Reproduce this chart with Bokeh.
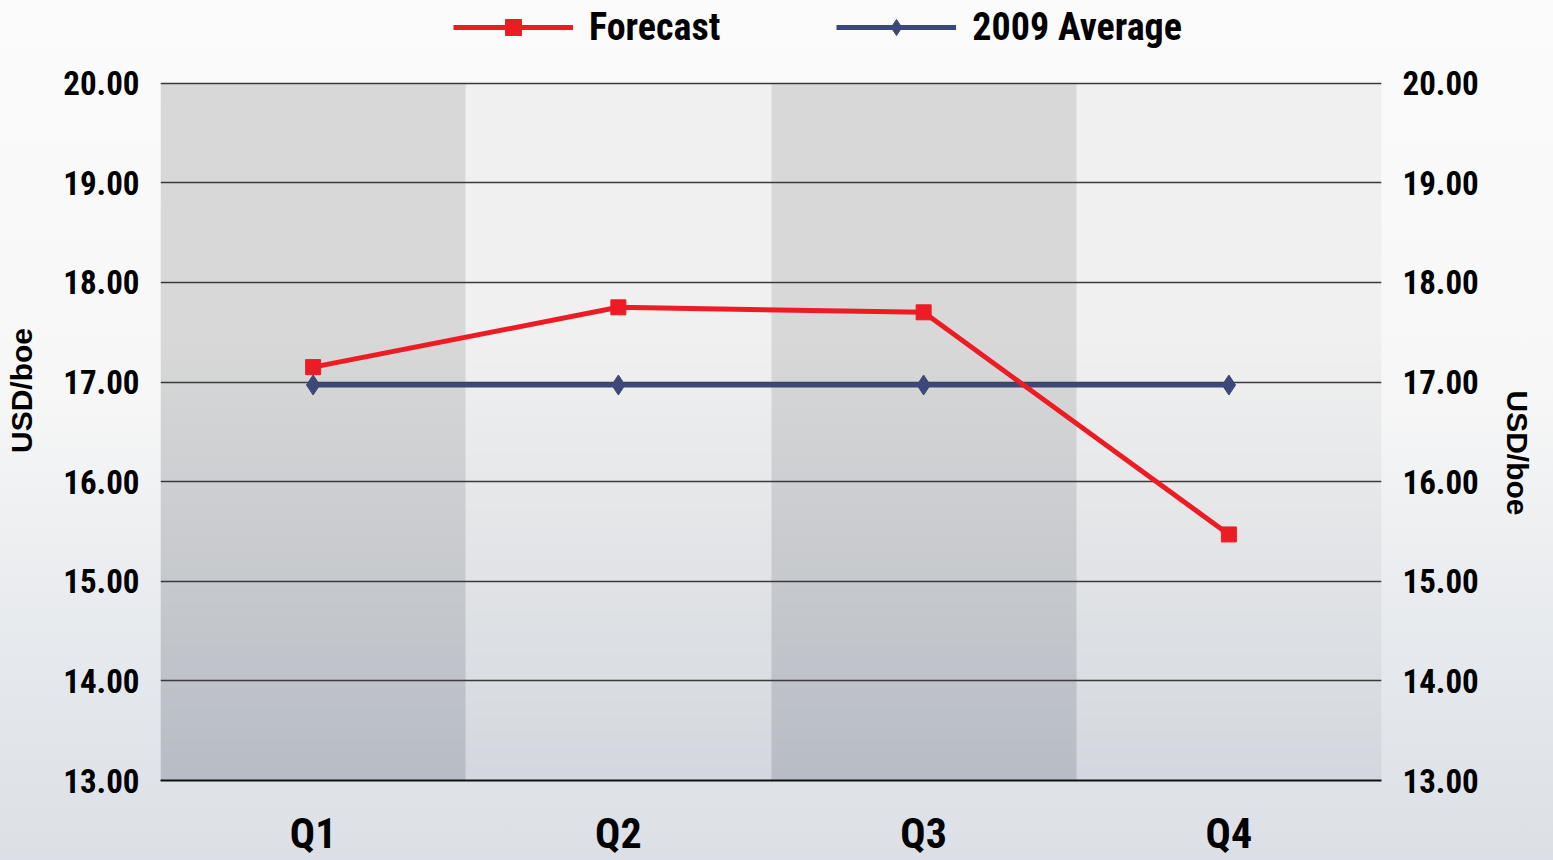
import numpy as np
from bokeh.plotting import figure
from bokeh.models import Range1d, LinearAxis, Legend, LegendItem, FixedTicker
from bokeh.embed import file_html
from bokeh.resources import INLINE

quarters = ["Q1", "Q2", "Q3", "Q4"]
forecast = [17.15, 17.75, 17.70, 15.47]
average_2009 = [16.97, 16.97, 16.97, 16.97]
y_ticks = [13, 14, 15, 16, 17, 18, 19, 20]
y_min, y_max = 13, 20
y_view_top = 20.83  # extra headroom above the chart for the legend

COND = "Roboto Condensed"

x = list(range(len(quarters)))

p = figure(width=1553, height=860, output_backend="svg", toolbar_location=None,
           x_range=Range1d(-0.5, len(quarters) - 0.5), y_range=Range1d(y_min, y_view_top),
           min_border_left=160, min_border_right=171, min_border_top=0, min_border_bottom=79)
p.border_fill_color = None
p.background_fill_color = None
p.outline_line_color = None
p.styles = {"background-image": "linear-gradient(to bottom, #fbfbfb 0%, #f7f7f7 45%, #e6e9ed 75%, #dce0e6 100%)"}

rows = 256
t = np.linspace(0, 1, rows)[:, None]
dark_bot = np.array([0xb8, 0xbd, 0xc5]); dark_top = np.array([0xd8, 0xd8, 0xd8])
lite_bot = np.array([0xd4, 0xd8, 0xde]); lite_top = np.array([0xf0, 0xf0, 0xf0])
img = np.zeros((rows, len(quarters)), dtype=np.uint32)
view = img.view(dtype=np.uint8).reshape((rows, len(quarters), 4))
tt = np.clip(t * 1.6, 0, 1)
for i in range(len(quarters)):
    bot, top = (dark_bot, dark_top) if i % 2 == 0 else (lite_bot, lite_top)
    c = bot[None, :] * (1 - tt) + top[None, :] * tt
    view[:, i, 0] = c[:, 0].astype(np.uint8)
    view[:, i, 1] = c[:, 1].astype(np.uint8)
    view[:, i, 2] = c[:, 2].astype(np.uint8)
    view[:, i, 3] = 255
p.image_rgba(image=[img], x=-0.5, y=y_min, dw=len(quarters), dh=y_max - y_min, level="image")

p.xgrid.grid_line_color = None
p.ygrid.ticker = FixedTicker(ticks=y_ticks)
p.ygrid.grid_line_color = "#3a3a3a"
p.ygrid.grid_line_width = 1.3

red = "#ed1c24"
navy = "#3d4878"
la = p.line(x, average_2009, line_color=navy, line_width=5)
sa = p.scatter(x, average_2009, marker="diamond", size=20, fill_color=navy, line_color=navy)
lf = p.line(x, forecast, line_color=red, line_width=5)
sf = p.scatter(x, forecast, marker="square", size=15, fill_color=red, line_color=red)

xa = p.xaxis[0]
xa.ticker = FixedTicker(ticks=x)
xa.major_label_overrides = {i: q for i, q in enumerate(quarters)}
xa.major_label_text_font = COND
xa.major_label_text_font_style = "bold"
xa.major_label_text_font_size = "42px"
xa.major_label_text_color = "#000000"
xa.major_tick_line_color = None
xa.minor_tick_line_color = None
xa.axis_line_color = "#111111"
xa.axis_line_width = 2
xa.major_label_standoff = 22

def style_y(ax, standoff, label_standoff):
    ax.ticker = FixedTicker(ticks=y_ticks)
    ax.major_label_overrides = {v: f"{v:.2f}" for v in y_ticks}
    ax.major_label_text_font = COND
    ax.major_label_text_font_style = "bold"
    ax.major_label_text_font_size = "33px"
    ax.major_label_text_color = "#000000"
    ax.major_tick_line_color = None
    ax.minor_tick_line_color = None
    ax.axis_line_color = None
    ax.major_label_standoff = standoff
    ax.axis_label = "USD/boe"
    ax.axis_label_text_font = "Liberation Sans"
    ax.axis_label_text_font_style = "bold"
    ax.axis_label_text_font_size = "30px"
    ax.axis_label_text_color = "#000000"
    ax.axis_label_standoff = label_standoff

style_y(p.yaxis[0], 15, 22)
ra = LinearAxis()
style_y(ra, 15, 36)
ra.axis_label_orientation = -np.pi / 2
p.add_layout(ra, "right")

legend = Legend(items=[LegendItem(label="Forecast", renderers=[lf, sf]),
                       LegendItem(label="2009 Average", renderers=[la, sa])],
                orientation="horizontal", location=(293, 731))
legend.label_text_font = COND
legend.label_text_font_style = "bold"
legend.label_text_font_size = "38px"
legend.label_text_color = "#000000"
legend.glyph_width = 120
legend.glyph_height = 40
legend.label_standoff = 16
legend.spacing = 116
legend.padding = 2
legend.margin = 0
legend.background_fill_alpha = 0
legend.border_line_color = None
p.add_layout(legend, "center")

open("out.html", "w").write(file_html(p, INLINE))
